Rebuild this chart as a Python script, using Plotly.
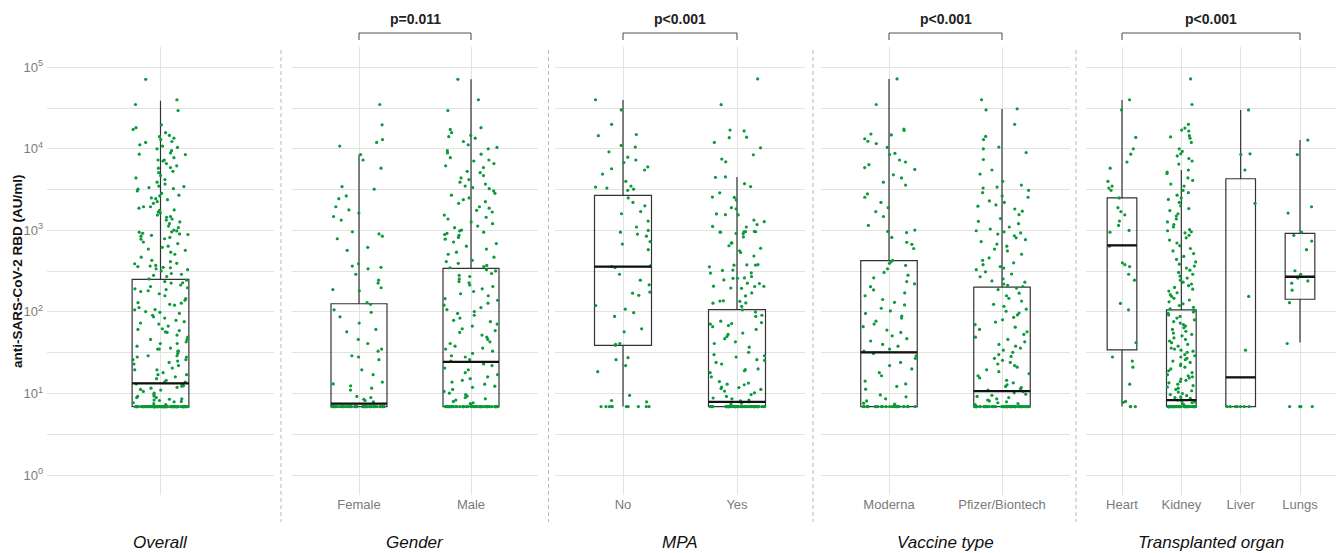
import math
import plotly.graph_objects as go

# ---------------- data (values in AU/ml) ----------------
LOD = 6.9  # lower detection limit where many points pile up

female_above = [35000, 19700, 13000, 12000, 10800, 8500, 7300, 5800, 3450, 3200, 2650, 2450,
                1950, 1780, 1630, 1480, 1340, 960, 905, 850, 790, 620, 570, 390, 365, 352, 338,
                290, 245, 226, 198, 188, 182, 130, 124, 106, 99, 87, 73, 61, 57, 46, 41, 35, 33,
                29, 28, 26, 19.5, 17, 13.8, 13.1, 12.4, 11.6, 11, 9.2, 8.9, 8.5, 8.2, 7.9]
female_at_lod = 45

male_above = [71300, 40000, 29500, 18200, 17300, 15800, 14600, 14100, 13500, 12300, 11200, 10400,
              10000, 9500, 8900, 8600, 7800, 7300, 7100, 6600, 6200, 5900, 5300, 5100, 4700, 4400,
              4200, 3900, 3700, 3500, 3350, 3250, 3050, 2850, 2700, 2500, 2380, 2250, 2150, 1950,
              1870, 1760, 1680, 1540, 1450, 1380, 1270, 1210, 1130, 1080, 1010, 985, 950, 920, 890,
              870, 820, 780, 720, 690, 640, 590, 540, 510, 470, 430, 415, 395, 372, 360, 348, 330,
              318, 296, 281, 272, 254, 236, 228, 214, 205, 192, 178, 167, 158, 146, 139, 128, 121,
              113, 107, 101, 96, 91, 84, 79, 76, 71, 67, 62, 59, 56, 52, 49, 46, 43, 41, 38, 36, 35,
              33, 31, 29, 28, 26, 25, 24, 23, 22, 20.5, 19.5, 18, 17, 16, 15.2, 14.5, 13.8, 13, 12.3,
              11.9, 11.2, 10.6, 10.1, 9.7, 9.3, 8.9, 8.6, 8.3, 8.0, 7.7, 7.5, 7.3]
male_at_lod = 50

mpa_no_above = [40000, 30000, 20000, 15000, 14500, 11000, 10500, 9200, 7900, 7300, 6800, 6000,
                5700, 5500, 4900, 4000, 3500, 3400, 3300, 3200, 3100, 2500, 2200, 2000, 1700, 1600,
                1300, 1100, 1000, 950, 900, 850, 730, 680, 580, 370, 360, 350, 290, 245, 215, 175,
                170, 160, 120, 108, 98, 88, 62, 57, 41, 40, 39, 27.5, 26, 22, 18.5, 9.5, 8.2, 7.9]
mpa_no_at_lod = 10

mpa_yes_above = [72000, 34800, 17000, 16600, 13900, 13700, 12000, 10300, 8460, 7500, 6930, 4520,
                 4480, 3740, 3450, 2890, 2560, 2540, 2360, 1900, 1840, 1590, 1560, 1550, 1340, 1280,
                 1180, 1120, 1100, 965, 960, 955, 950, 970, 962, 918, 912, 831, 702, 698, 648, 604,
                 563, 536, 485, 378, 380, 376, 375, 357, 326, 323, 301, 300, 272, 259, 258, 261, 247,
                 223, 225, 206, 205, 207, 196, 195, 171, 157, 136, 137, 135, 129, 128, 117, 106, 100,
                 91, 88, 77, 74, 72, 71, 68, 66, 61, 55, 53, 50, 47, 43, 41, 37, 32, 30, 29, 28, 26,
                 25.5, 24, 23, 20, 19.6, 19, 18, 16, 14, 13.4, 13, 12.8, 12, 11.8, 11.5, 11.2, 10.7,
                 10.2, 9.7, 9.2, 8.8, 8.6, 8.3, 8.1, 7.9, 7.6, 7.4]
mpa_yes_at_lod = 50

moderna_above = [72000, 35000, 17500, 16800, 15200, 14800, 13300, 12400, 11600, 10400, 8800, 8500,
                 7300, 6900, 6400, 5900, 5600, 4800, 4400, 3900, 3600, 2800, 2550, 2200, 1900, 1700,
                 1480, 1150, 1010, 970, 940, 820, 715, 675, 600, 430, 415, 395, 372, 338, 305, 282,
                 262, 236, 221, 204, 186, 171, 158, 142, 131, 122, 111, 103, 96, 89, 84, 77, 71, 66,
                 60, 56, 51, 47, 44, 40, 38, 35, 33, 31, 29, 27, 24, 22, 20, 18, 16.5, 14.2, 13.1,
                 12.2, 11.3, 9.6, 9.1, 8.6, 8.1, 7.6, 7.4]
moderna_at_lod = 25

pfizer_above = [40000, 31000, 30000, 20000, 14200, 13000, 10500, 10000, 9000, 7400, 5500, 4900,
                4000, 3600, 3400, 3300, 3100, 2900, 2650, 2550, 2300, 2200, 2050, 1980, 1830, 1720,
                1560, 1400, 1290, 1210, 1100, 1040, 990, 960, 930, 900, 860, 810, 770, 730, 680, 640,
                590, 560, 510, 460, 430, 400, 380, 360, 345, 330, 310, 292, 270, 255, 240, 232, 220,
                212, 205, 196, 188, 170, 158, 147, 136, 124, 117, 108, 102, 97, 92, 86, 80, 75, 70,
                65, 61, 57, 53, 49, 46, 43, 40, 38, 36, 34, 32, 30, 28.5, 27, 25.5, 24, 23, 22, 21,
                19.5, 18.5, 17.5, 16.5, 15.5, 14.5, 13.5, 12.8, 12.2, 11.8, 11.4, 11, 10.6, 10.2,
                9.8, 9.5, 9.2, 8.9, 8.6, 8.3, 8.1, 7.9, 7.7, 7.5, 7.3]
pfizer_at_lod = 55

heart_above = [40000, 30000, 13800, 10000, 8600, 6900, 5800, 4000, 3500, 3300, 3100, 2500, 1900,
               1700, 1550, 1300, 1150, 1000, 950, 640, 400, 380, 360, 290, 245, 127, 106, 42, 28,
               25, 21, 13, 8.0, 7.8]
heart_at_lod = 3

kidney_above = [72000, 35000, 20000, 18000, 17000, 16500, 14500, 14000, 13500, 12000, 10000, 9300,
                8700, 8200, 7600, 7100, 6500, 5500, 5200, 5000, 4400, 4100, 3700, 3500, 3100, 2900,
                2700, 2500, 2400, 2200, 2000, 1850, 1750, 1600, 1500, 1380, 1270, 1180, 1100, 1020,
                990, 960, 930, 870, 810, 760, 700, 650, 600, 560, 520, 480, 440, 410, 385, 365, 345,
                325, 305, 290, 275, 260, 245, 232, 220, 210, 200, 190, 180, 172, 163, 155, 147, 140,
                133, 126, 120, 114, 109, 104, 100, 96, 92, 88, 84, 80, 76, 73, 70, 67, 64, 61, 58,
                55, 53, 51, 48, 46, 44, 42, 40, 38, 36, 35, 34, 33, 32, 30, 29, 28, 27, 26, 25, 24,
                23, 22, 21, 20, 19, 18, 17, 16.5, 16, 15.5, 15, 14.5, 14, 13.5, 13, 12.5, 12, 11.6,
                11.2, 10.8, 10.4, 10, 9.7, 9.4, 9.1, 8.9, 8.7, 8.5, 8.3, 8.1, 7.9, 7.7, 7.5, 7.3]
kidney_at_lod = 45

liver_above = [30000, 8700, 8500, 5500, 2150, 155, 34]
liver_at_lod = 7

lungs_above = [12800, 8500, 1950, 1630, 950, 870, 740, 580, 320, 290, 270, 260, 240, 225, 185, 130, 41]
lungs_at_lod = 4

# box statistics: q1, median, q3, lower whisker, upper whisker
overall_box = [6.9, 13.3, 251, 6.9, 39000]
female_box = [6.9, 7.5, 126, 6.9, 8460]
male_box = [6.9, 24.4, 342, 6.9, 71300]
mpa_no_box = [39, 360, 2690, 6.9, 39600]
mpa_yes_box = [6.9, 7.9, 107, 6.9, 4520]
moderna_box = [6.9, 32, 426, 6.9, 72000]
pfizer_box = [6.9, 10.7, 202, 6.9, 30900]
heart_box = [34.3, 655, 2510, 6.9, 39600]
kidney_box = [6.9, 8.3, 106, 6.9, 5510]
liver_box = [6.9, 15.8, 4300, 6.9, 30000]
lungs_box = [143, 270, 918, 42.3, 12800]

panel_titles = ["Overall", "Gender", "MPA", "Vaccine type", "Transplanted organ"]
gender_labels = ["Female", "Male"]
mpa_labels = ["No", "Yes"]
vaccine_labels = ["Moderna", "Pfizer/Biontech"]
organ_labels = ["Heart", "Kidney", "Liver", "Lungs"]
p_values = [None, "p=0.011", "p&lt;0.001", "p&lt;0.001", "p&lt;0.001"]

y_tick_vals = [1, 10, 100, 1000, 10000, 100000]
y_tick_text = ["10<sup>0</sup>", "10<sup>1</sup>", "10<sup>2</sup>", "10<sup>3</sup>",
               "10<sup>4</sup>", "10<sup>5</sup>"]


def with_lod(above, n):
    return list(above) + [LOD] * n


female = with_lod(female_above, female_at_lod)
male = with_lod(male_above, male_at_lod)
overall = female + male

panels = [
    ([""], [overall], [overall_box], 0.3),
    (gender_labels, [female, male], [female_box, male_box], 0.5),
    (mpa_labels, [with_lod(mpa_no_above, mpa_no_at_lod), with_lod(mpa_yes_above, mpa_yes_at_lod)],
     [mpa_no_box, mpa_yes_box], 0.5),
    (vaccine_labels, [with_lod(moderna_above, moderna_at_lod), with_lod(pfizer_above, pfizer_at_lod)],
     [moderna_box, pfizer_box], 0.5),
    (organ_labels, [with_lod(heart_above, heart_at_lod), with_lod(kidney_above, kidney_at_lod),
                    with_lod(liver_above, liver_at_lod), with_lod(lungs_above, lungs_at_lod)],
     [heart_box, kidney_box, liver_box, lungs_box], 0.5),
]

# ---------------- layout geometry (pixels in a 1338 x 553 page) ----------------
W, H = 1338, 553
panel_px = [(47, 274), (291.8, 538.2), (554.6, 805.4), (821.2, 1069.8), (1086.4, 1335.6)]
sep_px = [281, 548.5, 813, 1076]
plot_top, plot_bottom = 47, 495

GREEN = "#0b9a3a"
BOX_LINE = "#333333"
GRID = "#e2e2e2"
TICK_GREY = "#7b7b7b"
FONT = "Liberation Sans, Arial, sans-serif"


def fx(p):
    return p / W


def fy(p):
    return 1 - p / H


def jitter(k, pos):
    # deterministic scatter offset in [-1, 1] (display jitter only)
    v = math.sin(k * 12.9898 + pos * 78.233 + 0.5) * 43758.5453
    return 2 * (v - math.floor(v)) - 1


fig = go.Figure()
layout = {}
shapes = []
annotations = []

for i, (labels, groups, boxes, bw) in enumerate(panels):
    xa = "x" if i == 0 else f"x{i + 1}"
    key = "xaxis" if i == 0 else f"xaxis{i + 1}"
    n = len(labels)
    positions = list(range(1, n + 1))
    for pos, vals, st in zip(positions, groups, boxes):
        q1, med, q3, lo, hi = st
        fig.add_trace(go.Box(
            x=[pos], q1=[q1], median=[med], q3=[q3], lowerfence=[lo], upperfence=[hi],
            width=bw, boxpoints=False, fillcolor="rgba(0,0,0,0)", whiskerwidth=0,
            line=dict(color=BOX_LINE, width=1.2), xaxis=xa, yaxis="y",
            showlegend=False, hoverinfo="skip"))
        hw = bw / 2
        offs = [hw * 0.97 * jitter(k, pos + 7 * i) for k in range(len(vals))]
        fig.add_trace(go.Scatter(
            x=[pos + o for o in offs], y=vals, mode="markers",
            marker=dict(color=GREEN, size=3.2, line=dict(width=0)),
            xaxis=xa, yaxis="y", showlegend=False, hoverinfo="skip"))
        fig.add_trace(go.Scatter(
            x=[pos - hw, pos + hw], y=[med, med], mode="lines",
            line=dict(color="#111111", width=2.3), xaxis=xa, yaxis="y",
            showlegend=False, hoverinfo="skip"))

    x0, x1 = panel_px[i]
    layout[key] = dict(
        domain=[fx(x0), fx(x1)], range=[0.4, n + 0.6], anchor="y",
        tickmode="array", tickvals=positions, ticktext=labels,
        showticklabels=(i != 0),
        showgrid=True, gridcolor=GRID, gridwidth=1.2, zeroline=False, showline=False,
        ticks="", tickfont=dict(size=13, color=TICK_GREY, family=FONT), fixedrange=True)

    annotations.append(dict(
        xref="paper", yref="paper", x=fx((x0 + x1) / 2), y=fy(542),
        text=f"<i>{panel_titles[i]}</i>", showarrow=False,
        font=dict(size=17, color="#111111", family=FONT), xanchor="center", yanchor="middle"))

    if p_values[i] is not None:
        a, b = positions[0], positions[-1]
        shapes.append(dict(type="line", xref=xa, yref="paper", x0=a, x1=b, y0=fy(33), y1=fy(33),
                           line=dict(color="#555555", width=1.1)))
        for xx in (a, b):
            shapes.append(dict(type="line", xref=xa, yref="paper", x0=xx, x1=xx, y0=fy(33), y1=fy(40),
                               line=dict(color="#555555", width=1.1)))
        annotations.append(dict(
            xref=xa, yref="paper", x=(a + b) / 2, y=fy(19), text=f"<b>{p_values[i]}</b>",
            showarrow=False, font=dict(size=14, color="#222222", family=FONT),
            xanchor="center", yanchor="middle"))

for s in sep_px:
    shapes.append(dict(type="line", xref="paper", yref="paper", x0=fx(s), x1=fx(s),
                       y0=fy(50), y1=fy(522), line=dict(color="#b8b8b8", width=1, dash="4px,3px")))

half_decades = [v * 10 ** 0.5 for v in y_tick_vals[:-1]]

layout["yaxis"] = dict(
    type="log", range=[-0.245, 5.249], domain=[fy(plot_bottom), fy(plot_top)], anchor="x",
    tickmode="array", tickvals=y_tick_vals, ticktext=y_tick_text,
    showgrid=True, gridcolor=GRID, gridwidth=1.2, zeroline=False, showline=False, ticks="",
    minor=dict(tickmode="array", tickvals=half_decades, showgrid=True, gridcolor=GRID,
               gridwidth=1.2, ticks=""),
    ticklabelstandoff=3, tickfont=dict(size=13, color=TICK_GREY, family=FONT), fixedrange=True)

annotations.append(dict(
    xref="paper", yref="paper", x=fx(17), y=fy(271), text="<b>anti-SARS-CoV-2 RBD (AU/ml)</b>",
    textangle=-90, showarrow=False, font=dict(size=13.5, color="#111111", family=FONT),
    xanchor="center", yanchor="middle"))

fig.update_layout(
    width=W, height=H, margin=dict(l=0, r=0, t=0, b=0),
    paper_bgcolor="white", plot_bgcolor="white",
    shapes=shapes, annotations=annotations, showlegend=False,
    font=dict(family=FONT), **layout)

fig.write_html("out.html", config={"displayModeBar": False},
               post_script="document.body.style.margin='0';document.body.style.overflow='hidden';")
